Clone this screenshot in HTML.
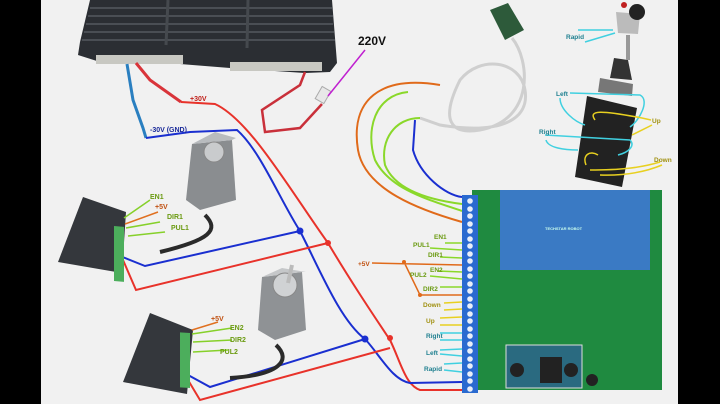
<!DOCTYPE html>
<html><head><meta charset="utf-8"><style>
html,body{margin:0;padding:0;width:720px;height:404px;overflow:hidden;background:#000}
svg{display:block}
text{font-family:"Liberation Sans",sans-serif;font-weight:bold}
</style></head><body>
<svg width="720" height="404" viewBox="0 0 720 404" xmlns="http://www.w3.org/2000/svg">
<rect x="41" y="0" width="637" height="404" fill="#f1f1f1"/>
<!-- PSU -->
<polygon points="90,0 332,0 337,63 330,72 305,73 230,68 180,64 100,62 78,55 80,42" fill="#2b2e33"/>
<g stroke="#55595f" stroke-width="1.5">
<line x1="90" y1="8" x2="332" y2="8"/><line x1="88" y1="16" x2="333" y2="16"/><line x1="86" y1="24" x2="333" y2="24"/><line x1="84" y1="32" x2="334" y2="32"/><line x1="82" y1="40" x2="335" y2="40"/>
</g>
<line x1="168" y1="0" x2="166" y2="45" stroke="#45494e" stroke-width="3"/>
<line x1="248" y1="0" x2="247" y2="48" stroke="#45494e" stroke-width="3"/>
<rect x="96" y="55" width="87" height="9" fill="#c8c8c2"/>
<rect x="230" y="62" width="92" height="9" fill="#c8c8c2"/>
<!-- PSU wires -->
<path d="M127,64 L133,100 L143,128 L146,138" stroke="#2a7fc0" stroke-width="3" fill="none"/>
<path d="M136,63 L150,80 L181,102" stroke="#d9343a" stroke-width="3" fill="none"/>
<path d="M305,72 L300,85 L262,110 L265,132 L300,128 L322,104" stroke="#c9303a" stroke-width="2.5" fill="none"/>
<rect x="318" y="88" width="10" height="14" fill="#e8e8e8" stroke="#aaa" transform="rotate(30 323 95)"/>
<line x1="328" y1="96" x2="365" y2="50" stroke="#c020d0" stroke-width="1.5"/>
<text x="358" y="45" font-size="12" font-weight="normal" fill="#111">220V</text>
<!-- main power -->
<path d="M181,102 L215,104 C250,120 290,190 328,243 C350,280 370,310 390,340 C400,360 405,385 420,390 L462,390" stroke="#e8322a" stroke-width="2" fill="none"/>
<path d="M146,138 L190,132 L237,130 C260,150 280,200 300,231 C320,270 340,320 365,339 C380,355 392,380 410,383 L462,382" stroke="#1a2fd0" stroke-width="2" fill="none"/>
<text x="190" y="101" font-size="7" fill="#c0201a">+30V</text>
<text x="150" y="132" font-size="7" fill="#1a2a9a">-30V (GND)</text>
<!-- driver wires -->
<path d="M120,256 L145,266 L300,231" stroke="#1a2fd0" stroke-width="2" fill="none"/>
<path d="M123,260 L136,290 L328,243" stroke="#e8322a" stroke-width="2" fill="none"/>
<path d="M188,375 L210,387 L365,339" stroke="#1a2fd0" stroke-width="2" fill="none"/>
<path d="M188,380 L200,400 L390,348" stroke="#e8322a" stroke-width="2" fill="none"/>
<circle cx="300" cy="231" r="3.5" fill="#1a2fd0"/><circle cx="328" cy="243" r="3" fill="#e8322a"/>
<circle cx="365" cy="339" r="3.5" fill="#1a2fd0"/><circle cx="390" cy="338" r="3" fill="#e8322a"/>
<!-- motors -->
<polygon points="192,144 232,140 236,200 200,210 186,200" fill="#8a8d90"/>
<polygon points="192,144 215,132 236,138 232,140" fill="#b8bbbe"/>
<circle cx="214" cy="152" r="10" fill="#c9cbcd" stroke="#888"/>
<path d="M205,215 C220,230 210,240 160,252" stroke="#2a2a2a" stroke-width="4" fill="none"/>
<polygon points="262,277 302,272 306,330 275,340 258,330" fill="#8f9295"/>
<polygon points="262,277 282,268 306,272 302,272" fill="#c5c7c9"/>
<circle cx="285" cy="285" r="12" fill="#d0d2d4" stroke="#888"/>
<line x1="288" y1="283" x2="292" y2="265" stroke="#bbb" stroke-width="4"/>
<path d="M276,345 C292,360 280,375 230,378" stroke="#2a2a2a" stroke-width="4" fill="none"/>
<!-- drivers -->
<polygon points="83,197 126,212 122,273 58,262" fill="#34373c"/>
<rect x="114" y="216" width="10" height="55" fill="#4cae5c" transform="skewY(5)"/>
<polygon points="150,313 193,330 187,394 123,382" fill="#34373c"/>
<rect x="180" y="323" width="10" height="55" fill="#4cae5c" transform="skewY(3)"/>
<g stroke="#86d02a" stroke-width="1.5" fill="none">
<path d="M124,218 L150,200"/><path d="M126,228 L160,222"/><path d="M128,236 L165,232"/>
<path d="M192,334 L232,328"/><path d="M193,342 L232,340"/><path d="M193,352 L228,350"/>
</g>
<g stroke="#e07020" stroke-width="1.5" fill="none"><path d="M125,224 L158,212"/><path d="M192,330 L218,322"/></g>
<g font-size="7" fill="#6a9a10"><text x="150" y="199">EN1</text><text x="167" y="219">DIR1</text><text x="171" y="230">PUL1</text>
<text x="230" y="330">EN2</text><text x="230" y="342">DIR2</text><text x="220" y="354">PUL2</text></g>
<text x="155" y="209" font-size="7" fill="#c05010">+5V</text><text x="211" y="321" font-size="7" fill="#c05010">+5V</text>
<!-- top-right cable -->
<polygon points="490,10 508,3 524,30 505,40" fill="#2d5a3a"/>
<path d="M512,38 C530,60 535,120 480,130 C450,135 440,120 460,80 C480,55 520,60 525,90 C530,120 500,135 440,125 L420,118" stroke="#cfcfcf" stroke-width="3" fill="none"/>
<path d="M440,85 C380,75 350,100 358,150 C365,190 420,210 462,222" stroke="#e06a1a" stroke-width="2" fill="none"/>
<path d="M408,92 C375,95 365,130 375,160 C390,190 430,200 462,211" stroke="#8ad82a" stroke-width="2" fill="none"/>
<path d="M420,118 C395,118 380,140 385,165 C395,190 430,200 462,204" stroke="#8ad82a" stroke-width="2" fill="none"/>
<path d="M415,120 L413,150 C420,175 445,195 462,197" stroke="#1a2fd0" stroke-width="2" fill="none"/>
<!-- board -->
<rect x="472" y="190" width="190" height="200" fill="#1f8a40"/>
<rect x="500" y="190" width="150" height="80" fill="#3a7ac4"/>
<text x="545" y="230" font-size="4" fill="#cfe">TECHSTAR ROBOT</text>
<rect x="506" y="345" width="76" height="43" fill="#2a6a80" stroke="#ddd"/>
<rect x="540" y="357" width="22" height="26" fill="#222"/>
<circle cx="517" cy="370" r="7" fill="#222"/><circle cx="571" cy="370" r="7" fill="#222"/>
<circle cx="592" cy="380" r="6" fill="#222"/>
<rect x="462" y="195" width="16" height="198" fill="#2a6ad0"/>
<g fill="#e8eef8">
<circle cx="470" cy="201" r="2.8"/><circle cx="470" cy="209" r="2.8"/><circle cx="470" cy="216" r="2.8"/><circle cx="470" cy="224" r="2.8"/><circle cx="470" cy="231" r="2.8"/><circle cx="470" cy="239" r="2.8"/><circle cx="470" cy="246" r="2.8"/><circle cx="470" cy="254" r="2.8"/><circle cx="470" cy="261" r="2.8"/><circle cx="470" cy="269" r="2.8"/><circle cx="470" cy="276" r="2.8"/><circle cx="470" cy="284" r="2.8"/><circle cx="470" cy="291" r="2.8"/><circle cx="470" cy="299" r="2.8"/><circle cx="470" cy="306" r="2.8"/><circle cx="470" cy="314" r="2.8"/><circle cx="470" cy="321" r="2.8"/><circle cx="470" cy="329" r="2.8"/><circle cx="470" cy="336" r="2.8"/><circle cx="470" cy="344" r="2.8"/><circle cx="470" cy="351" r="2.8"/><circle cx="470" cy="359" r="2.8"/><circle cx="470" cy="366" r="2.8"/><circle cx="470" cy="374" r="2.8"/><circle cx="470" cy="381" r="2.8"/><circle cx="470" cy="389" r="2.8"/>
</g>
<!-- board wires -->
<g stroke="#8ad82a" stroke-width="1.5"><line x1="445" y1="243" x2="462" y2="243"/><line x1="430" y1="248" x2="462" y2="250"/><line x1="440" y1="257" x2="462" y2="258"/><line x1="438" y1="271" x2="462" y2="272"/><line x1="430" y1="276" x2="462" y2="279"/><line x1="440" y1="287" x2="462" y2="287"/></g>
<path d="M372,263 L462,265 M404,262 L420,295 L462,295" stroke="#e06a1a" stroke-width="1.5" fill="none"/>
<circle cx="404" cy="262" r="2" fill="#e06a1a"/><circle cx="420" cy="295" r="2" fill="#e06a1a"/>
<g stroke="#e8d020" stroke-width="1.5"><line x1="444" y1="303" x2="462" y2="302"/><line x1="444" y1="310" x2="462" y2="309"/><line x1="440" y1="318" x2="462" y2="317"/><line x1="440" y1="325" x2="462" y2="325"/></g>
<g stroke="#40d0e0" stroke-width="1.5"><line x1="440" y1="333" x2="462" y2="333"/><line x1="440" y1="340" x2="462" y2="340"/><line x1="440" y1="350" x2="462" y2="349"/><line x1="440" y1="354" x2="462" y2="356"/><line x1="444" y1="364" x2="462" y2="363"/><line x1="444" y1="370" x2="462" y2="372"/></g>
<g font-size="6.5" fill="#6a9a10"><text x="434" y="239">EN1</text><text x="413" y="247">PUL1</text><text x="428" y="257">DIR1</text><text x="430" y="272">EN2</text><text x="410" y="277">PUL2</text><text x="423" y="291">DIR2</text></g>
<text x="358" y="266" font-size="6.5" fill="#c05010">+5V</text>
<g font-size="6.5" fill="#a09010"><text x="423" y="307">Down</text><text x="426" y="323">Up</text></g>
<g font-size="6.5" fill="#208090"><text x="426" y="338">Right</text><text x="426" y="355">Left</text><text x="424" y="371">Rapid</text></g>
<!-- joystick -->
<polygon points="587,96 637,108 622,187 575,177" fill="#222"/>
<polygon points="600,78 633,84 632,96 598,92" fill="#777"/>
<polygon points="614,58 628,60 632,80 610,78" fill="#333"/>
<rect x="626" y="35" width="4" height="25" fill="#999"/>
<polygon points="616,12 640,14 638,34 618,33" fill="#bbb"/>
<circle cx="637" cy="12" r="8" fill="#222"/>
<circle cx="624" cy="5" r="3" fill="#c02020"/>
<g stroke="#40d0e0" stroke-width="1.5" fill="none">
<path d="M578,30 L613,30 M585,42 L615,33"/>
<path d="M570,93 L640,95 C650,100 640,120 630,127 M560,98 C560,110 575,122 585,125"/>
<path d="M545,135 L630,140 C635,145 630,152 618,155 M546,140 C548,148 565,150 578,150"/>
</g>
<g stroke="#e8d020" stroke-width="1.5" fill="none">
<path d="M595,120 C588,110 600,110 642,118 L651,120 M632,135 L652,125"/>
<path d="M586,165 C582,155 590,150 598,155 M590,170 C620,170 640,168 660,162 M600,175 C630,176 650,170 662,165"/>
</g>
<g font-size="6.5"><text x="566" y="39" fill="#208090">Rapid</text><text x="556" y="96" fill="#208090">Left</text><text x="539" y="134" fill="#208090">Right</text>
<text x="652" y="123" fill="#a09010">Up</text><text x="654" y="162" fill="#a09010">Down</text></g>
</svg>
</body></html>
